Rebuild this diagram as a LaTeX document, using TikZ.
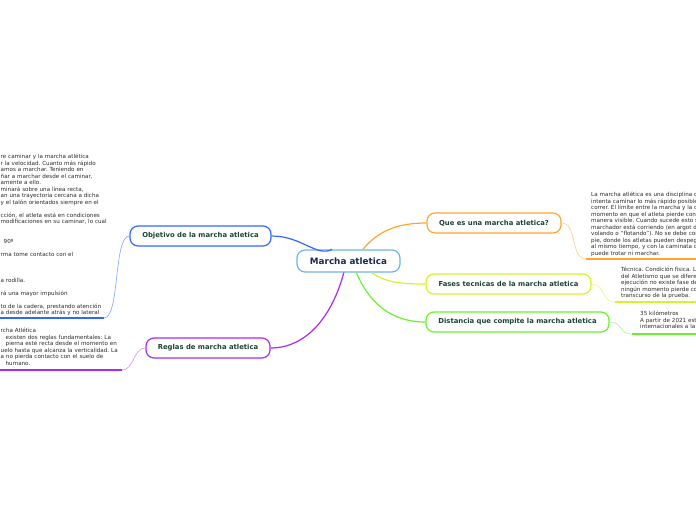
\documentclass[tikz,border=0pt]{standalone}
\usepackage{fontspec}
\setmainfont{DejaVu Sans}
\usetikzlibrary{positioning}
\definecolor{rootblue}{HTML}{6EB4E6}
\definecolor{roottxt}{HTML}{1B2A4A}
\definecolor{labtxt}{HTML}{1C4336}
\definecolor{notetxt}{HTML}{2A2A2A}
\definecolor{objblue}{HTML}{3366FF}
\definecolor{objlight}{HTML}{7FA2FF}
\definecolor{regpurple}{HTML}{AA2AF5}
\definecolor{reglight}{HTML}{D493FF}
\definecolor{queorange}{HTML}{FFA530}
\definecolor{quelight}{HTML}{FFCB85}
\definecolor{fasyellow}{HTML}{D2F52A}
\definecolor{faslight}{HTML}{E2FA85}
\definecolor{disgreen}{HTML}{6CF030}
\definecolor{dislight}{HTML}{A8F585}
\tikzset{
    root/.style={draw=rootblue, line width=1.2pt, rounded corners=8pt, fill=white, minimum width=103pt, minimum height=22pt, inner sep=0pt, text=roottxt, font=\bfseries\fontsize{8.8}{10}\selectfont},
    topic/.style={draw, line width=1.2pt, rounded corners=8pt, fill=white, minimum height=20pt, inner sep=0pt, text=labtxt, font=\bfseries\fontsize{6.85}{8}\selectfont},
    note/.style={anchor=base west, inner sep=0pt, align=left, text width=170pt, text=notetxt, font=\frenchspacing\fontsize{5.6}{6.5}\selectfont},
    branch/.style={line width=1.2pt},
    twig/.style={line width=0.6pt},
    uline/.style={line width=1.7pt}
}
\begin{document}
\begin{tikzpicture}[x=1pt, y=-1pt]
    \useasboundingbox (0,0) rectangle (696,520);
    \clip (0,0) rectangle (696,520);

    \node[root] (mar) at (348.5,261) {Marcha atletica};
    \node[topic, draw=objblue, minimum width=141pt] (obj) at (200.5,236) {Objetivo de la marcha atletica};
    \node[topic, draw=regpurple, minimum width=124pt] (reg) at (208,348) {Reglas de marcha atletica};
    \node[topic, draw=queorange, minimum width=134pt] (que) at (494,223) {Que es una marcha atletica?};
    \node[topic, draw=fasyellow, minimum width=165pt] (fas) at (508.5,284) {Fases tecnicas de la marcha atletica};
    \node[topic, draw=disgreen, minimum width=183pt] (dis) at (517.5,322) {Distancia que compite la marcha atletica};

    \node[note] (objnote) at (0.5,158.7) {re caminar y la marcha atlética\\
        r la velocidad. Cuanto más rápido\\
        amos a marchar. Teniendo en\\
        ñar a marchar desde el caminar,\\
        amente a ello.\\
        minará sobre una línea recta,\\
        an una trayectoria cercana a dicha\\
        y el talón orientados siempre en el\\
        \mbox{}\\
        cción, el atleta está en condiciones\\
        modificaciones en su caminar, lo cual\\
        \mbox{}\\
        \mbox{}\\
        \hspace*{3pt}90º\\
        \mbox{}\\
        rma tome contacto con el\\
        \mbox{}\\
        \mbox{}\\
        \mbox{}\\
        a rodilla.\\
        \mbox{}\\
        rá una mayor impulsión\\
        \mbox{}\\
        to de la cadera, prestando atención\\
        a desde adelante atrás y no lateral};
    \node[note] (regnote) at (0.5,332.7) {rcha Atlética\\
        \hspace*{5pt}existen dos reglas fundamentales: La\\
        \hspace*{5pt}pierna esté recta desde el momento en\\
        uelo hasta que alcanza la verticalidad. La\\
        a no pierda contacto con el suelo de\\
        \hspace*{5pt}humano.};
    \node[note] (quenote) at (591,196.7) {La marcha atlética es una disciplina d\\
        intenta caminar lo más rápido posible\\
        correr. El límite entre la marcha y la c\\
        momento en que el atleta pierde cont\\
        manera visible. Cuando sucede esto s\\
        marchador está corriendo (en argot d\\
        volando o ``flotando''). No se debe con\\
        pie, donde los atletas pueden despeg\\
        al mismo tiempo, y con la caminata d\\
        puede trotar ni marchar.};
    \node[note] (fasnote) at (621,271.7) {Técnica. Condición física. L\\
        del Atletismo que se difere\\
        ejecución no existe fase de\\
        ningún momento pierde co\\
        transcurso de la prueba.};
    \node[note] (disnote) at (640,315.7) {35 kilómetros\\
        A partir de 2021 est\\
        internacionales a la .};

    \draw[branch, objblue] (mar.145) .. controls +(-15,8) and +(30,0) .. (obj.east);
    \draw[branch, regpurple] (mar.-112) .. controls +(-12,45) and +(35,0) .. (reg.east);
    \draw[branch, queorange] (mar.39) .. controls +(15,-18) and +(-30,0) .. (que.west);
    \draw[branch, fasyellow] (mar.-27) .. controls +(15,10) and +(-25,0) .. (fas.west);
    \draw[branch, disgreen] (mar.-56) .. controls +(15,35) and +(-30,0) .. (dis.west);

    \coordinate (objua) at (0,318);
    \coordinate (objub) at (104,318);
    \coordinate (regua) at (0,370);
    \coordinate (regub) at (122,370);
    \coordinate (queua) at (586,259);
    \coordinate (queub) at (696,259);
    \coordinate (fasua) at (615,302);
    \coordinate (fasub) at (696,302);
    \coordinate (disua) at (632,334);
    \coordinate (disub) at (696,334);

    \draw[uline, objblue] (objua) -- (objub);
    \draw[uline, regpurple] (regua) -- (regub);
    \draw[uline, queorange] (queua) -- (queub);
    \draw[uline, fasyellow] (fasua) -- (fasub);
    \draw[uline, disgreen] (disua) -- (disub);

    \draw[twig, objlight] (obj.west) .. controls +(-16,0) and +(16,0) .. (objub);
    \draw[twig, reglight] (reg.west) .. controls +(-12,0) and +(12,0) .. (regub);
    \draw[twig, quelight] (que.east) .. controls +(16,0) and +(-16,0) .. (queua);
    \draw[twig, faslight] (fas.east) .. controls +(14,0) and +(-14,0) .. (fasua);
    \draw[twig, dislight] (dis.east) .. controls +(14,0) and +(-14,0) .. (disua);
\end{tikzpicture}
\end{document}
